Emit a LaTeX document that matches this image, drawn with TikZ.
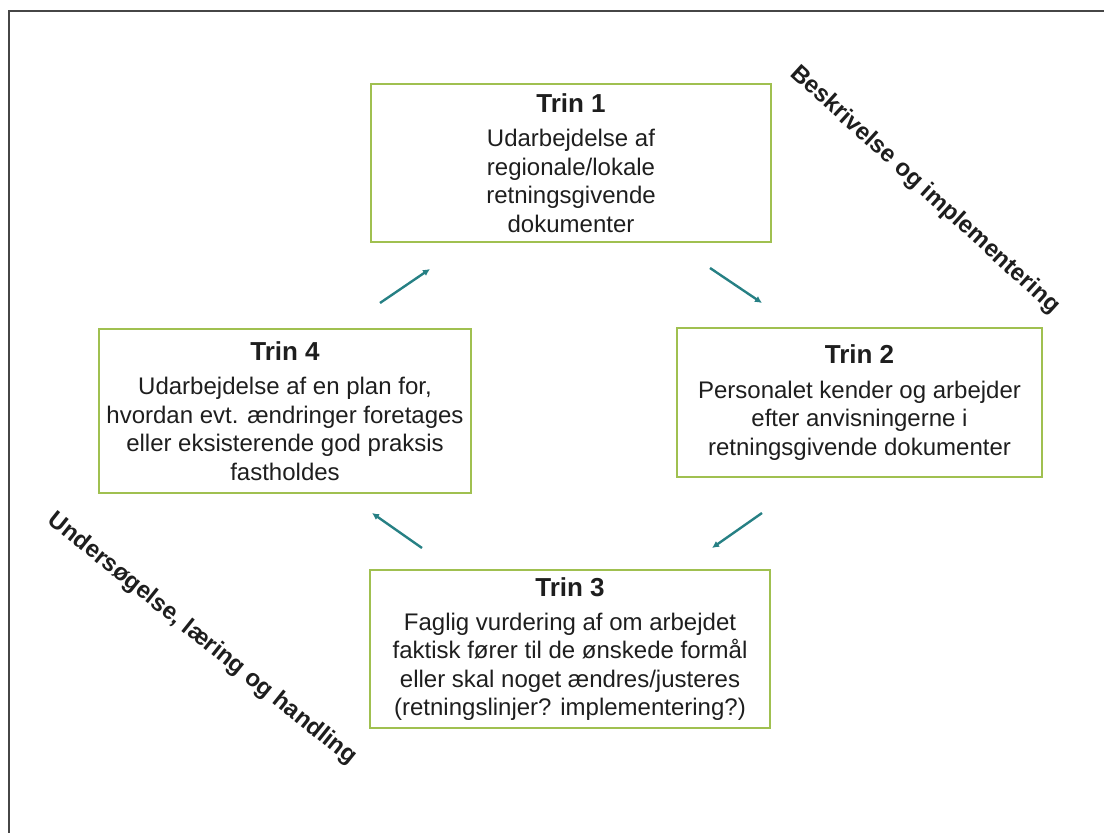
\documentclass[tikz,border=0pt]{standalone}
\usepackage{fontspec}
\setmainfont{Liberation Sans}
\usepackage{tikz}
\usetikzlibrary{arrows.meta,calc}
\definecolor{boxgreen}{RGB}{160,192,80}
\definecolor{arrowteal}{RGB}{38,128,132}
\definecolor{framegray}{RGB}{70,70,70}
\definecolor{txtgray}{RGB}{30,30,30}
\newcommand{\trinhead}[1]{{\fontsize{13}{15}\selectfont\bfseries #1}\\[3pt]}

\begin{document}
\begin{tikzpicture}
  [
    x=0.5pt, y=-0.5pt,
    block/.style =
      {draw=boxgreen, line width=1pt, rectangle, align=center, inner sep=0pt,
       text=txtgray, font=\fontsize{12}{14.2}\selectfont,
       minimum width=200pt, minimum height=79pt},
    diag/.style =
      {text=txtgray, font=\fontsize{12}{14}\selectfont\bfseries, inner sep=0pt},
    cyc/.style =
      {draw=arrowteal, line width=1.2pt, -{Latex[length=3.5pt,width=3.5pt]}}
  ]
  \useasboundingbox (0,0) rectangle (1104,833);
  \draw[framegray, line width=1pt] (9,833) -- (9,11) -- (1104,11);

  \node [block] at (571,163) (t1)
    {\trinhead{Trin 1}Udarbejdelse af\\regionale/lokale\\retningsgivende\\dokumenter};
  \node [block, minimum width=182.5pt, minimum height=74.5pt] at (859.5,402.5) (t2)
    {\trinhead{Trin 2}Personalet kender og arbejder\\efter anvisningerne i\\retningsgivende dokumenter};
  \node [block] at (570,649) (t3)
    {\trinhead{Trin 3}Faglig vurdering af om arbejdet\\faktisk fører til de ønskede formål\\eller skal noget ændres/justeres\\(retningslinjer? implementering?)};
  \node [block, minimum width=186pt, minimum height=82pt] at (285,411) (t4)
    {\trinhead{Trin 4}Udarbejdelse af en plan for,\\hvordan evt. ændringer foretages\\eller eksisterende god praksis\\fastholdes};

  \node [diag, rotate=-42.3] at (925,190) (beskr) {Beskrivelse og implementering};
  \node [diag, rotate=-38.7] at (202,639) (unders) {Undersøgelse, læring og handling};

  \coordinate (a12s) at (710,268);
  \coordinate (a12e) at (762,303);
  \coordinate (a23s) at (762,513);
  \coordinate (a23e) at (712,548);
  \coordinate (a34s) at (422,548);
  \coordinate (a34e) at (372,513);
  \coordinate (a41s) at (380,303);
  \coordinate (a41e) at (430,269);

  \draw[cyc] (a12s) -- (a12e);
  \draw[cyc] (a23s) -- (a23e);
  \draw[cyc] (a34s) -- (a34e);
  \draw[cyc] (a41s) -- (a41e);

\end{tikzpicture}
\end{document}
